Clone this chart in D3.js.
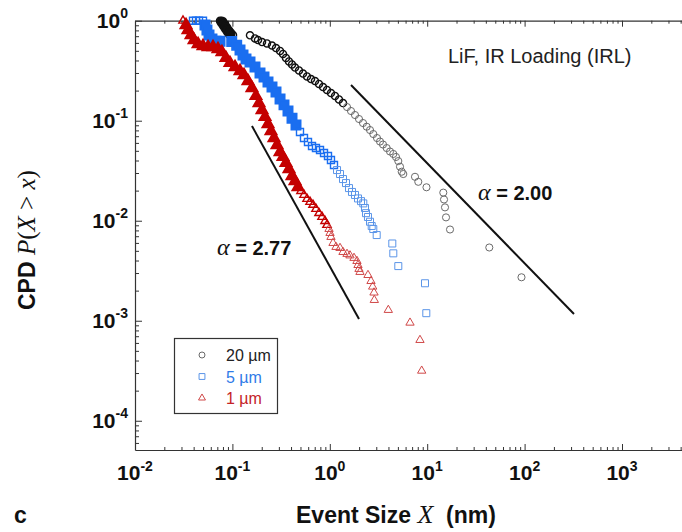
<!DOCTYPE html>
<html lang="en">
<head>
<meta charset="UTF-8">
<title>CPD of event sizes, LiF IRL</title>
<script src="https://d3js.org/d3.v7.min.js"></script>
<style>
  body { margin: 0; background: #fff; }
  svg { font-family: "Liberation Sans", Arial, sans-serif; }
</style>
</head>
<body>
<div id="chart"></div>
<script>
// ---- data (event size X in nm, CPD P(X > x)) ----
const seriesNames = ["20 \u00b5m", "5 \u00b5m", "1 \u00b5m"];

const x20 = [0.0746, 0.0781, 0.0820, 0.0859, 0.0901, 0.0944, 0.1014, 0.1516, 0.1706, 0.1831,
  0.2014, 0.2265, 0.2550, 0.2803, 0.3084, 0.3308, 0.3548, 0.3811, 0.4093, 0.4395,
  0.4829, 0.5307, 0.5834, 0.6412, 0.7047, 0.7745, 0.8516, 0.9354, 1.028, 1.131,
  1.243, 1.366, 1.502, 1.651, 1.814, 1.994, 2.192, 2.392, 2.587, 2.797,
  3.052, 3.277, 3.518, 3.838, 4.151, 4.487, 4.782, 5.050, 5.257, 5.473,
  5.683, 7.494, 8.10, 9.83, 14.63, 14.88, 15.23, 15.60, 17.15, 43.4, 92.9];
const p20 = [1.0, 0.970, 0.906, 0.845, 0.789, 0.745, 0.719, 0.714, 0.664, 0.641,
  0.612, 0.592, 0.565, 0.533, 0.498, 0.465, 0.424, 0.391, 0.365, 0.340,
  0.318, 0.296, 0.277, 0.261, 0.249, 0.233, 0.217, 0.203, 0.189, 0.177,
  0.163, 0.150, 0.137, 0.125, 0.114, 0.104, 0.0948, 0.0871, 0.0807, 0.0736,
  0.0671, 0.0619, 0.0578, 0.0533, 0.0492, 0.0465, 0.0434, 0.0395, 0.0347, 0.0309,
  0.0293, 0.0275, 0.0245, 0.0216, 0.0191, 0.0163, 0.0136, 0.0108, 0.00817, 0.00540, 0.00272];

const x5 = [0.0394, 0.0423, 0.0454, 0.0499, 0.0523, 0.0548, 0.0575, 0.0617, 0.0679, 0.0746,
  0.0984, 0.1107, 0.1197, 0.1285, 0.1379, 0.1516, 0.1706, 0.1920, 0.2111, 0.2320,
  0.2550, 0.2803, 0.3084, 0.3387, 0.3722, 0.4093, 0.4498, 0.4943, 0.5433, 0.5972,
  0.6567, 0.7211, 0.7933, 0.8720, 0.9583, 1.028, 1.104, 1.186, 1.273, 1.366,
  1.467, 1.574, 1.690, 1.814, 1.948, 2.091, 2.208, 2.298, 2.353, 2.466,
  2.587, 2.693, 2.797, 3.030, 4.383, 4.487, 5.050, 9.49, 9.79];
const p5 = [1.0, 1.0, 1.0, 1.0, 0.906, 0.807, 0.719, 0.656, 0.622, 0.622,
  0.619, 0.568, 0.509, 0.454, 0.414, 0.386, 0.344, 0.300, 0.274, 0.244,
  0.217, 0.194, 0.165, 0.144, 0.125, 0.106, 0.0906, 0.0771, 0.0671, 0.0612,
  0.0558, 0.0533, 0.0509, 0.0475, 0.0444, 0.0405, 0.0361, 0.0321, 0.0293, 0.0261,
  0.0238, 0.0212, 0.0194, 0.0181, 0.0167, 0.0157, 0.0149, 0.0134, 0.0119, 0.0109,
  0.00977, 0.00885, 0.00826, 0.00719, 0.00592, 0.00472, 0.00352, 0.00237, 0.00119];

const x1 = [0.0311, 0.0334, 0.0350, 0.0376, 0.0404, 0.0444, 0.0499, 0.0562, 0.0632, 0.0711,
  0.0781, 0.0859, 0.0944, 0.1064, 0.1197, 0.1315, 0.1445, 0.1588, 0.1744, 0.1875,
  0.2014, 0.2163, 0.2320, 0.2489, 0.2673, 0.2871, 0.3084, 0.3308, 0.3548, 0.3811,
  0.4093, 0.4395, 0.4716, 0.5058, 0.5433, 0.5834, 0.6266, 0.6724, 0.7211, 0.7745,
  0.8318, 0.8933, 0.9354, 0.9817, 1.005, 1.028, 1.079, 1.158, 1.273, 1.366,
  1.502, 1.612, 1.772, 1.901, 1.948, 1.994, 2.042, 2.466, 2.649, 2.756,
  2.844, 2.864, 3.988, 6.66, 8.43, 8.78];
const p1 = [1.0, 0.906, 0.807, 0.719, 0.641, 0.585, 0.558, 0.546, 0.546, 0.521,
  0.486, 0.424, 0.378, 0.344, 0.314, 0.286, 0.249, 0.212, 0.177, 0.150,
  0.128, 0.109, 0.0927, 0.0789, 0.0671, 0.0571, 0.0486, 0.0434, 0.0378, 0.0329,
  0.0280, 0.0249, 0.0217, 0.0198, 0.0181, 0.0165, 0.0154, 0.0144, 0.0131, 0.0119,
  0.0109, 0.00993, 0.00906, 0.00826, 0.00753, 0.00687, 0.00598, 0.00546, 0.00533, 0.00486,
  0.00465, 0.00449, 0.00424, 0.00395, 0.00360, 0.00329, 0.00307, 0.00286, 0.00249, 0.00219,
  0.00191, 0.00161, 0.00128, 0.000955, 0.000641, 0.000316];

// power-law guide lines (end points)
const fitLabels = ["2.00", "2.77"];
const fitX = [[1.651, 321.5], [0.1588, 1.994]];
const fitP = [[0.2275, 0.001167], [0.0885, 0.00104]];

const xTickExp = [-2, -1, 0, 1, 2, 3];
const yTickExp = [0, -1, -2, -3, -4];

// ---- layout ----
const W = 682, H = 532;
const plotLeft = 135, plotTop = 20.7, plotBottom = 450;
const decadeX = 97.4;

const svg = d3.select("#chart").append("svg")
  .attr("width", W).attr("height", H);

const x = d3.scaleLog()
  .domain([1e-2, 5000])
  .range([plotLeft, plotLeft + decadeX * Math.log10(5000 / 1e-2)]);

const y = d3.scaleLog()
  .domain([5.1e-5, 1])
  .range([plotBottom, plotTop]);

const isMajor = v => Math.abs(Math.log10(v) - Math.round(Math.log10(v))) < 1e-6;
const xMinor = x.ticks().filter(v => !isMajor(v));
const xMajor = x.ticks().filter(isMajor);
const yMinor = y.ticks().filter(v => !isMajor(v) && v >= 5.1e-5);
const yMajor = y.ticks().filter(isMajor);

function drawAxis(gen, tr, minor, major, big, small) {
  const g = svg.append("g").attr("transform", tr);
  g.call(gen.tickValues(minor).tickSizeInner(small).tickSizeOuter(0).tickFormat(""));
  const g2 = svg.append("g").attr("transform", tr);
  g2.call(gen.tickValues(major).tickSizeInner(big).tickSizeOuter(0).tickFormat(""));
  g2.select(".domain").remove();
  [g, g2].forEach(s => {
    s.selectAll("line").attr("stroke", "#333").attr("stroke-width", 1);
    s.select(".domain").attr("stroke", "#333").attr("stroke-width", 1.2);
  });
}
drawAxis(d3.axisBottom(x), `translate(0,${plotBottom})`, xMinor, xMajor, -6, -3);
drawAxis(d3.axisTop(x), `translate(0,${plotTop})`, xMinor, xMajor, -6, -3);
drawAxis(d3.axisLeft(y), `translate(${plotLeft},0)`, yMinor, yMajor, -7, -4);

// tick labels with superscripts
const xl = svg.append("g").selectAll("text").data(xTickExp).join("text")
  .attr("x", d => x(Math.pow(10, d)))
  .attr("y", plotBottom + 30)
  .attr("text-anchor", "middle")
  .attr("font-size", 21).attr("font-weight", "bold").attr("fill", "#111");
xl.append("tspan").text("10");
xl.append("tspan").attr("dy", -9).attr("font-size", 14).text(d => d < 0 ? "-" + (-d) : d);

const yl = svg.append("g").selectAll("text").data(yTickExp).join("text")
  .attr("x", plotLeft - 7)
  .attr("y", d => y(Math.pow(10, d)) + 7.5)
  .attr("text-anchor", "end")
  .attr("font-size", 21).attr("font-weight", "bold").attr("fill", "#111");
yl.append("tspan").text("10");
yl.append("tspan").attr("dy", -10).attr("font-size", 14).text(d => d < 0 ? "-" + (-d) : d);

// axis titles
const serif = "Liberation Serif, Times New Roman, serif";
const xt = svg.append("text").attr("x", 296).attr("y", 523)
  .attr("font-size", 23).attr("font-weight", "bold").attr("fill", "#111");
xt.append("tspan").text("Event Size ");
xt.append("tspan").attr("font-family", serif)
  .attr("font-style", "italic").attr("font-weight", "normal").attr("font-size", 26).text("X");
xt.append("tspan").text("\u00a0 (nm)");

const yt = svg.append("text")
  .attr("transform", "translate(35,310) rotate(-90)")
  .attr("font-size", 23).attr("font-weight", "bold").attr("fill", "#111");
yt.append("tspan").text("CPD ");
yt.append("tspan").attr("font-family", serif).attr("font-style", "italic").attr("font-weight", "normal").attr("font-size", 25).text("P");
yt.append("tspan").attr("font-family", serif).attr("font-weight", "normal").attr("font-size", 25).text("(");
yt.append("tspan").attr("font-family", serif).attr("font-style", "italic").attr("font-weight", "normal").attr("font-size", 25).text("X");
yt.append("tspan").attr("font-family", serif).attr("font-weight", "normal").attr("font-size", 25).text(" > ");
yt.append("tspan").attr("font-family", serif).attr("font-style", "italic").attr("font-weight", "normal").attr("font-size", 25).text("x");
yt.append("tspan").attr("font-family", serif).attr("font-weight", "normal").attr("font-size", 25).text(")");

svg.append("text").attr("x", 14).attr("y", 523)
  .attr("font-size", 23).attr("font-weight", "bold").attr("fill", "#111").text("c");

svg.append("text").attr("x", 448).attr("y", 63)
  .attr("font-size", 20).attr("fill", "#222").text("LiF, IR Loading (IRL)");

// guide lines
const line = d3.line().x(d => x(d[0])).y(d => y(d[1]));
fitX.forEach((fx, i) => {
  svg.append("path")
    .attr("d", line(fx.map((v, j) => [v, fitP[i][j]])))
    .attr("stroke", "#111").attr("stroke-width", 2).attr("fill", "none");
});
const labPos = [[478, 200], [217, 255]];
fitLabels.forEach((t, i) => {
  const tx = svg.append("text").attr("x", labPos[i][0]).attr("y", labPos[i][1])
    .attr("font-size", 20).attr("font-weight", "bold").attr("fill", "#111");
  tx.append("tspan").attr("font-family", serif).attr("font-style", "italic")
    .attr("font-weight", "normal").attr("font-size", 24).text("\u03b1");
  tx.append("tspan").text(" = " + t);
});

// markers: where the original points pile up the marks read as a solid band,
// so those get filled; the sparse tail stays thin and light
const series = [
  { name: seriesNames[0], xs: x20, ps: p20, type: d3.symbolCircle, size: 40,
    dark: "#111111", light: "#6a6a6a", thickAbove: 0.72, darkAbove: 0.15 },
  { name: seriesNames[1], xs: x5, ps: p5, type: d3.symbolSquare, size: 49,
    dark: "#1a6ef0", light: "#5b95e8", thickAbove: 0.09, darkAbove: 0.035 },
  { name: seriesNames[2], xs: x1, ps: p1, type: d3.symbolTriangle, size: 30,
    dark: "#c40000", light: "#d04848", thickAbove: 0.02, darkAbove: 0.009 }
];

series.forEach(s => {
  const solid = d => d[1] >= s.thickAbove && d[1] < 1;
  svg.append("g").selectAll("path")
    .data(s.xs.map((v, i) => [v, s.ps[i]]))
    .join("path")
    .attr("d", d => d3.symbol().type(s.type).size(solid(d) ? s.size * 1.5 : s.size)())
    .attr("transform", d => `translate(${x(d[0])},${y(d[1])})`)
    .attr("fill", d => solid(d) ? s.dark : "none")
    .attr("stroke", d => d[1] >= s.darkAbove ? s.dark : s.light)
    .attr("stroke-width", d => solid(d) ? 2.4 : (d[1] >= s.darkAbove ? 1.4 : 1));
});

// legend
const lg = svg.append("g");
lg.append("rect").attr("x", 174.5).attr("y", 338.5).attr("width", 103).attr("height", 75)
  .attr("fill", "#fff").attr("stroke", "#333").attr("stroke-width", 1.2);
const legText = ["#222", "#2f7be8", "#c42228"];
series.forEach((s, i) => {
  const cy = 355 + i * 21.5;
  lg.append("path")
    .attr("d", d3.symbol().type(s.type).size(s.size * 0.7))
    .attr("transform", `translate(202,${cy})`)
    .attr("fill", "none").attr("stroke", s.light).attr("stroke-width", 1);
  lg.append("text").attr("x", 226).attr("y", cy + 6)
    .attr("font-size", 16).attr("fill", legText[i]).text(s.name);
});
</script>
</body>
</html>
